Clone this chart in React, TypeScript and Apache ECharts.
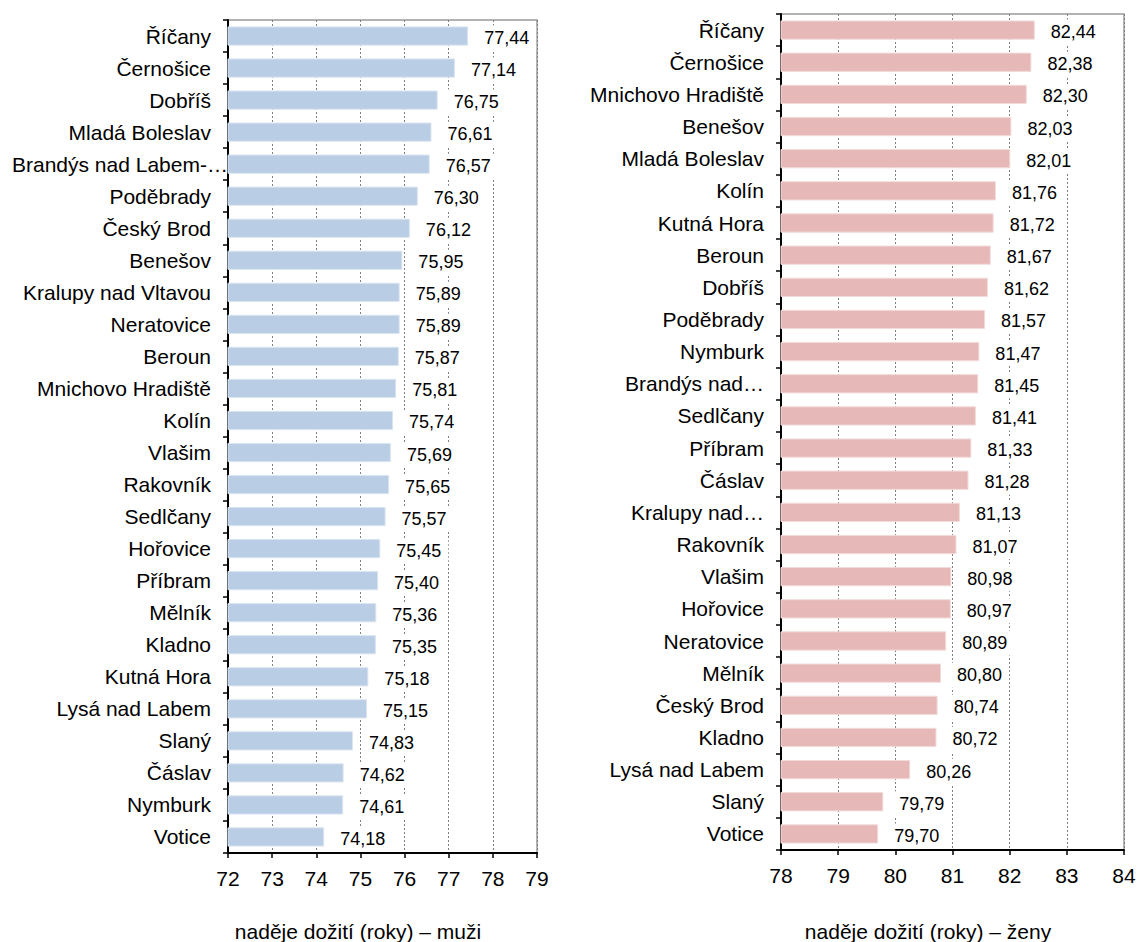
import React, { useEffect, useRef } from "react";
import * as echarts from "echarts";

const menCategories = [
  "Říčany", "Černošice", "Dobříš", "Mladá Boleslav", "Brandýs nad Labem-…", "Poděbrady",
  "Český Brod", "Benešov", "Kralupy nad Vltavou", "Neratovice", "Beroun", "Mnichovo Hradiště",
  "Kolín", "Vlašim", "Rakovník", "Sedlčany", "Hořovice", "Příbram", "Mělník", "Kladno",
  "Kutná Hora", "Lysá nad Labem", "Slaný", "Čáslav", "Nymburk", "Votice",
];
const menValues = [
  77.44, 77.14, 76.75, 76.61, 76.57, 76.3, 76.12, 75.95, 75.89, 75.89, 75.87, 75.81,
  75.74, 75.69, 75.65, 75.57, 75.45, 75.4, 75.36, 75.35, 75.18, 75.15, 74.83, 74.62,
  74.61, 74.18,
];
const womenCategories = [
  "Říčany", "Černošice", "Mnichovo Hradiště", "Benešov", "Mladá Boleslav", "Kolín",
  "Kutná Hora", "Beroun", "Dobříš", "Poděbrady", "Nymburk", "Brandýs nad…", "Sedlčany",
  "Příbram", "Čáslav", "Kralupy nad…", "Rakovník", "Vlašim", "Hořovice", "Neratovice",
  "Mělník", "Český Brod", "Kladno", "Lysá nad Labem", "Slaný", "Votice",
];
const womenValues = [
  82.44, 82.38, 82.3, 82.03, 82.01, 81.76, 81.72, 81.67, 81.62, 81.57, 81.47, 81.45,
  81.41, 81.33, 81.28, 81.13, 81.07, 80.98, 80.97, 80.89, 80.8, 80.74, 80.72, 80.26,
  79.79, 79.7,
];
const menAxis = { min: 72, max: 79, interval: 1 };
const womenAxis = { min: 78, max: 84, interval: 1 };
const menTitle = "naděje dožití (roky) – muži";
const womenTitle = "naděje dožití (roky) – ženy";

const FONT = "'Liberation Sans', Arial, sans-serif";

export default function App() {
  const ref = useRef<HTMLDivElement>(null);
  useEffect(() => {
    if (!ref.current) return;
    const chart = echarts.init(ref.current, null, { renderer: "svg" });

    const grids = [
      { left: 228, top: 20, width: 309, height: 833 },
      { left: 781, top: 14, width: 343, height: 836 },
    ];

    const xAxisFor = (idx: number, ax: any) => ({
      type: "value",
      gridIndex: idx,
      min: ax.min,
      max: ax.max,
      interval: ax.interval,
      axisLine: { show: true, onZero: false, lineStyle: { color: "#000", width: 2 } },
      axisTick: { show: true, length: 5, lineStyle: { color: "#000", width: 1.5 } },
      axisLabel: { fontFamily: FONT, fontSize: 21, color: "#000", margin: 15 },
      splitLine: { show: true, lineStyle: { color: "#7f7f7f", type: [2, 2], width: 1 } },
    });

    const yAxisFor = (idx: number, cats: string[]) => ({
      type: "category",
      gridIndex: idx,
      data: cats,
      inverse: true,
      axisLine: { show: true, lineStyle: { color: "#000", width: 2 } },
      axisTick: { show: true, length: 5, lineStyle: { color: "#000", width: 1.5 } },
      axisLabel: {
        fontFamily: FONT,
        fontSize: 21,
        color: "#000",
        margin: 17,
        formatter: (v: string) => (v.length > 16 && v.endsWith("-…") ? `{long|${v}}` : v),
        rich: {
          long: { fontFamily: FONT, fontSize: 21, color: "#000", width: 199, align: "left" },
        },
      },
      splitLine: { show: false },
    });

    const labelFor = () => ({
      show: true,
      position: "right",
      distance: 9,
      fontFamily: FONT,
      fontSize: 18,
      color: "#000",
      backgroundColor: "#fff",
      padding: [4, 7, 3, 7],
      offset: [0, 2],
      formatter: (p: any) => Number(p.value).toFixed(2).replace(".", ","),
    });

    const titleText = (text: string, x: number) => ({
      type: "text",
      x,
      y: 931,
      style: {
        text,
        fontFamily: FONT,
        fontSize: 21,
        fill: "#000",
        align: "center",
        verticalAlign: "middle",
      },
    });

    chart.setOption({
      animation: false,
      backgroundColor: "#fff",
      grid: grids.map((g) => ({
        ...g,
        show: true,
        containLabel: false,
        outerBoundsMode: "none",
        borderColor: "#999",
        borderWidth: 1.5,
        backgroundColor: "transparent",
      })),
      xAxis: [xAxisFor(0, menAxis), xAxisFor(1, womenAxis)],
      yAxis: [yAxisFor(0, menCategories), yAxisFor(1, womenCategories)],
      graphic: [titleText(menTitle, 358), titleText(womenTitle, 928)],
      series: [
        {
          type: "bar",
          xAxisIndex: 0,
          yAxisIndex: 0,
          data: menValues,
          barWidth: "60%",
          itemStyle: { color: "#b9cde5", borderColor: "#dbe5f1", borderWidth: 1 },
          label: labelFor(),
        },
        {
          type: "bar",
          xAxisIndex: 1,
          yAxisIndex: 1,
          data: womenValues,
          barWidth: "60%",
          itemStyle: { color: "#e6b9b8", borderColor: "#f2dcdb", borderWidth: 1 },
          label: labelFor(),
        },
      ],
    });
    return () => chart.dispose();
  }, []);

  return (
    <div
      ref={ref}
      style={{ position: "fixed", left: 0, top: 0, width: 1138, height: 942, background: "#fff" }}
    />
  );
}
